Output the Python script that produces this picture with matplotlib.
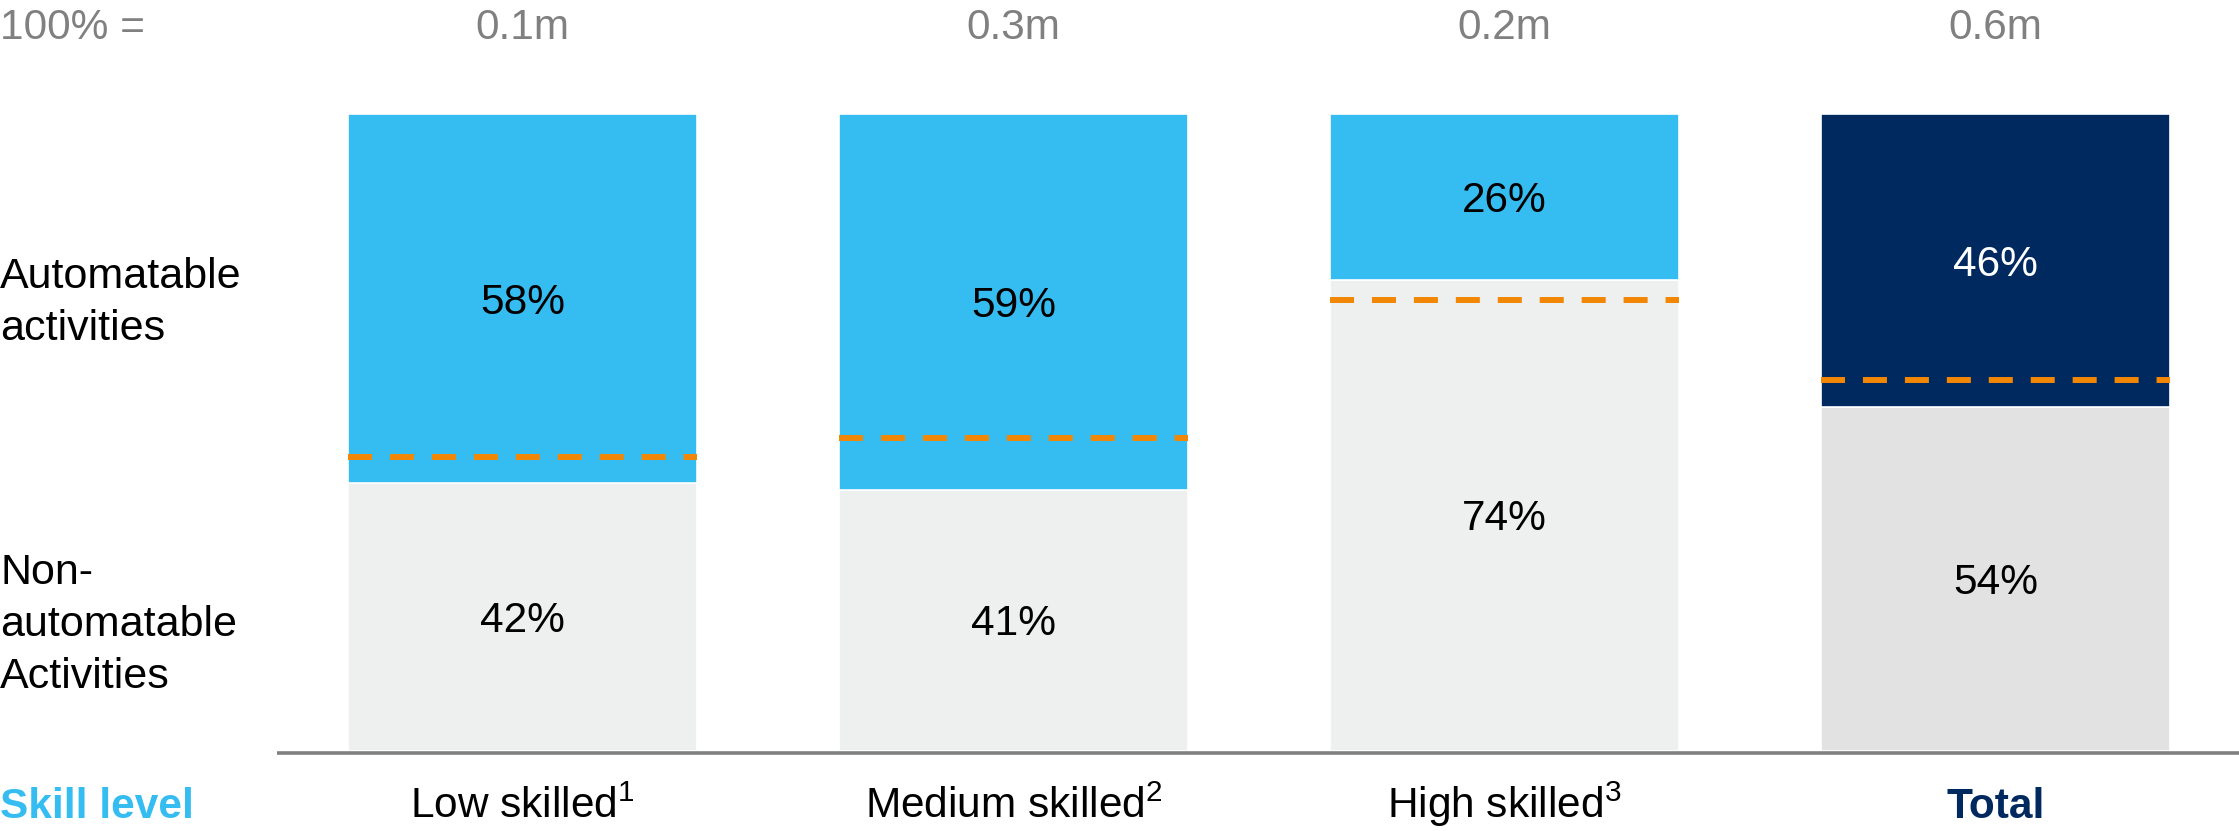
import matplotlib
matplotlib.use("Agg")
import matplotlib.pyplot as plt

plt.rcParams['font.family'] = ['Liberation Sans', 'DejaVu Sans']
plt.rcParams['lines.scale_dashes'] = False
plt.rcParams['mathtext.fontset'] = 'custom'
plt.rcParams['mathtext.rm'] = 'Liberation Sans'
plt.rcParams['mathtext.it'] = 'Liberation Sans'
plt.rcParams['mathtext.bf'] = 'Liberation Sans:bold'

categories = ["Low skilled", "Medium skilled", "High skilled", "Total"]
footnotes = ["1", "2", "3", ""]
totals = ["0.1m", "0.3m", "0.2m", "0.6m"]
automatable = [58, 59, 26, 46]
non_automatable = [42, 41, 74, 54]
dashed_level = [46.2, 49.1, 70.8, 58.2]   # orange dashed reference (% from bottom)

LIGHT_BLUE = "#35BDF2"
NAVY = "#00295F"
LIGHT_GRAY = "#EEF0EF"
TOTAL_GRAY = "#E2E2E2"
ORANGE = "#F28705"
GRAY_TXT = "#808080"

W, H, DPI = 2239, 831, 100
fig = plt.figure(figsize=(W / DPI, H / DPI), dpi=DPI)
ax = fig.add_axes([0, 0, 1, 1])
ax.set_axis_off()

# pixel-based layout
bar_step = 491.0
x0_px = 522.5
base_px, top_px = 751.0, 114.0
unit = (base_px - top_px) / 100.0
ax.set_xlim(-x0_px / bar_step, (W - x0_px) / bar_step)
ax.set_ylim(-(H - base_px) / unit, 100 + top_px / unit)
width = 349 / bar_step
xs = list(range(len(categories)))

top_colors = [LIGHT_BLUE, LIGHT_BLUE, LIGHT_BLUE, NAVY]
bot_colors = [LIGHT_GRAY, LIGHT_GRAY, LIGHT_GRAY, TOTAL_GRAY]

ax.bar(xs, non_automatable, width=width, color=bot_colors, edgecolor="white", linewidth=1.2)
ax.bar(xs, automatable, bottom=non_automatable, width=width, color=top_colors,
       edgecolor="white", linewidth=1.2)

FS = 30.5
half_cap = 15 / unit           # half the digit height, for baseline placement
top_base = 100 + (top_px - 39) / unit
cat_base = -(818 - base_px) / unit
for i in xs:
    na, a = non_automatable[i], automatable[i]
    ax.text(i, na / 2 - half_cap, f"{na}%", ha="center", va="baseline", fontsize=FS, color="black")
    ax.text(i, na + a / 2 - half_cap, f"{a}%", ha="center", va="baseline", fontsize=FS,
            color="white" if i == 3 else "black")
    ax.plot([i - width / 2, i + width / 2], [dashed_level[i]] * 2, color=ORANGE,
            linewidth=4.3, dash_capstyle="butt", linestyle=(0, (17.3, 12.9)))
    ax.text(i, top_base, totals[i], ha="center", va="baseline", fontsize=FS, color=GRAY_TXT)
    if footnotes[i]:
        label = categories[i].replace(" ", r"\ ")
        label = r"$\mathrm{" + label + "}^{" + footnotes[i] + "}$"
    else:
        label = categories[i]
    ax.text(i, cat_base, label, ha="center", va="baseline", fontsize=FS,
            color=NAVY if i == 3 else "black", fontweight="bold" if i == 3 else "normal")

xl = ax.get_xlim()[0]
ax.text(xl, top_base, "100% =", ha="left", va="baseline", fontsize=FS, color=GRAY_TXT)
ax.text(xl, cat_base, "Skill level", ha="left", va="baseline", fontsize=FS,
        color=LIGHT_BLUE, fontweight="bold")
ax.text(xl, (base_px - 303) / unit, "Automatable\nactivities", ha="left", va="center",
        fontsize=31, color="black", linespacing=1.38)
ax.text(xl, (base_px - 625) / unit, "Non-\nautomatable\nActivities", ha="left", va="center",
        fontsize=31, color="black", linespacing=1.38)

# baseline
ax.plot([(277 - x0_px) / bar_step, ax.get_xlim()[1]], [-1.5 / unit] * 2, color="#808080",
        linewidth=2.6, solid_capstyle="butt")

fig.savefig("out.png", dpi=DPI)
